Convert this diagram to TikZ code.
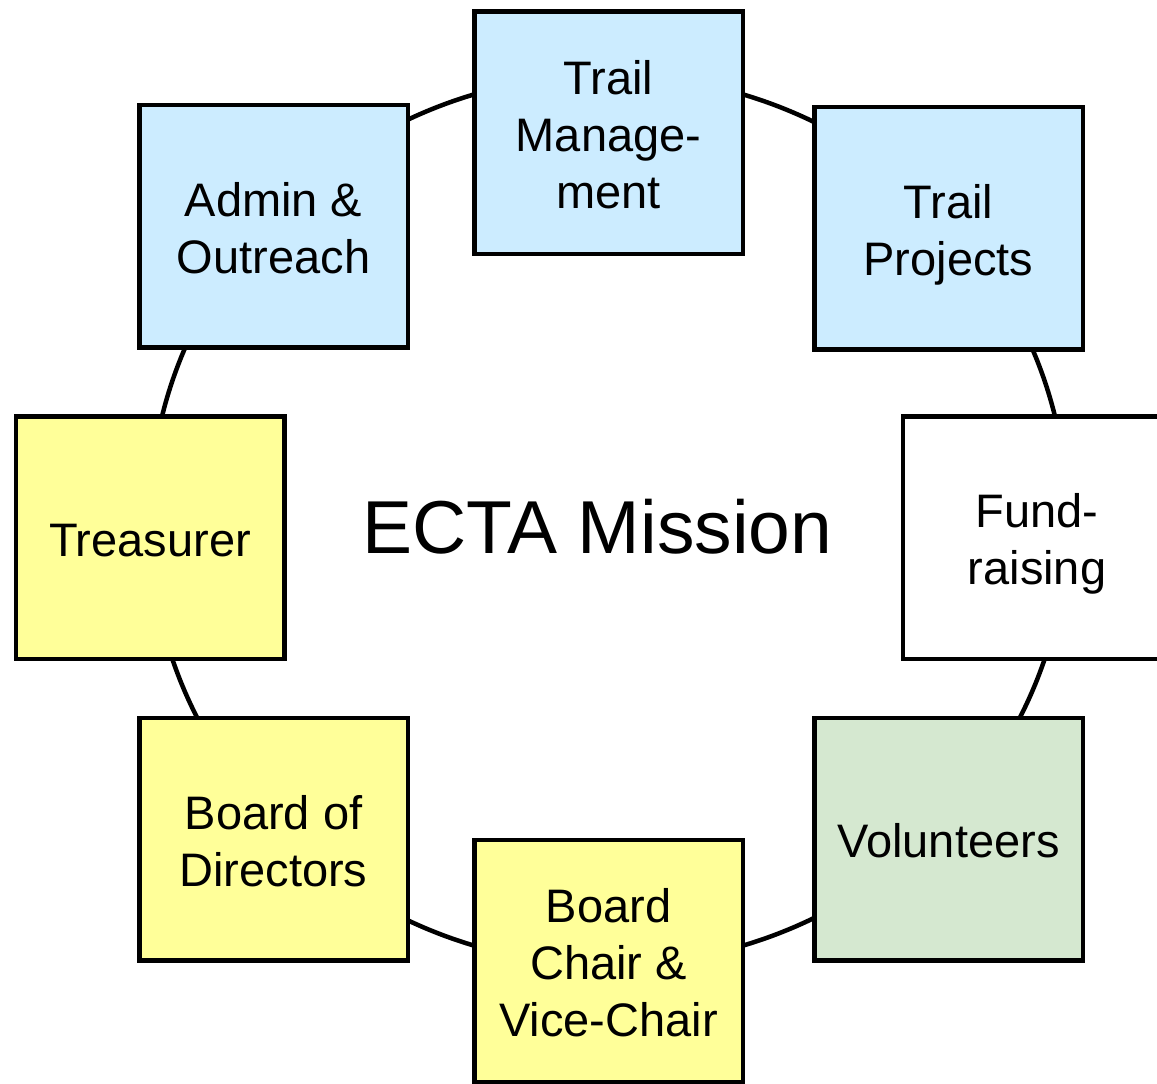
\documentclass[tikz,border=0pt]{standalone}
\usepackage{fontspec}
\setmainfont{Liberation Sans}
\definecolor{boxblue}{HTML}{CCECFF}
\definecolor{boxyellow}{HTML}{FFFF99}
\definecolor{boxgreen}{HTML}{D5E8D0}
\newcommand{\ls}{\rule[-10pt]{0pt}{57pt}}
\tikzset{
  unit/.style={draw=black, line width=4.5pt, minimum width=268.5pt, minimum height=242.5pt,
    align=center, inner sep=0pt, font=\fontsize{47}{57}\selectfont},
  ring/.style={draw=black, line width=4.5pt},
}
\begin{document}
\begin{tikzpicture}[x=1pt,y=-1pt]
\useasboundingbox (0,0) rectangle (1157,1084);
\coordinate (c) at (608.5,520);
\draw[ring] (c) ellipse [x radius=459pt, y radius=445pt];
\node[unit, fill=boxblue] (tm) at (608.5,132.5) {\ls Trail\\Manage-\\ment\ls};
\node[unit, fill=boxblue] (tp) at (948.5,228) {\ls Trail\\Projects\ls};
\node[unit, fill=white] (fr) at (1037,537.5) {\ls Fund-\\raising\ls};
\node[unit, fill=boxgreen] (vo) at (948.5,839) {\ls Volunteers\ls};
\node[unit, fill=boxyellow] (bc) at (608.5,961) {\ls Board\\Chair \&\\Vice-Chair\ls};
\node[unit, fill=boxyellow] (bd) at (273.5,839) {\ls Board of\\Directors\ls};
\node[unit, fill=boxyellow] (tr) at (150,537.5) {\ls Treasurer\ls};
\node[unit, fill=boxblue] (ao) at (273.5,226) {\ls Admin \&\\Outreach\ls};
\node[anchor=base, inner sep=0pt, font=\fontsize{75}{90}\selectfont] (mission) at (597.5,553) {ECTA Mission};
\end{tikzpicture}
\end{document}
